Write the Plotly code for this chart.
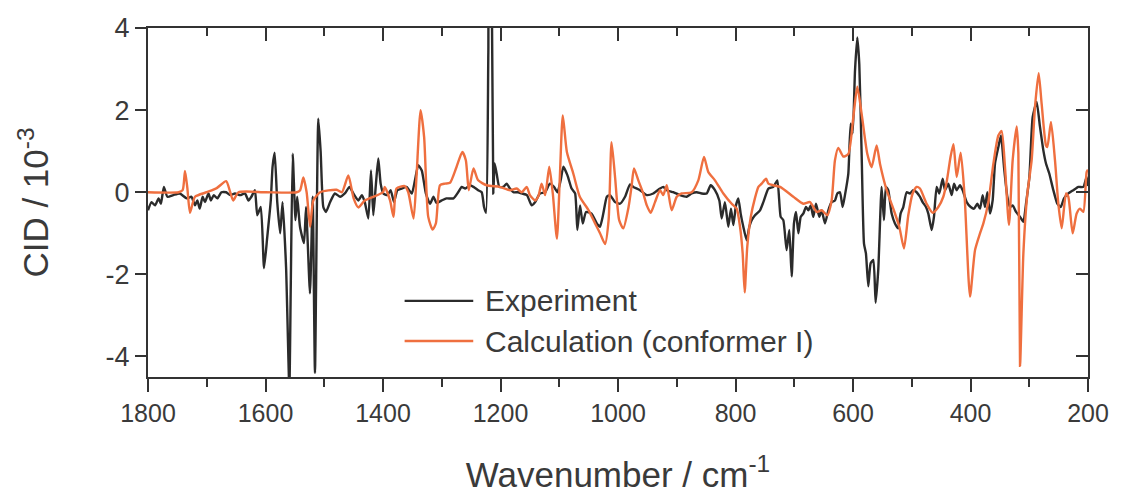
import plotly.graph_objects as go

# Experiment (wavenumber, CID x 1e-3)
exp_wn = [1800, 1794, 1788, 1782, 1778, 1773, 1767, 1757, 1746, 1734, 1726, 1720, 1716, 1712, 1707, 1703,
          1697, 1693, 1688, 1682, 1675, 1667, 1660, 1652, 1643, 1635, 1629, 1624, 1618, 1614, 1608, 1602.5,
          1597, 1591, 1588, 1584.4, 1580, 1575, 1571, 1565, 1559.4, 1557, 1553.7, 1549, 1546, 1541.3,
          1534.5, 1531, 1524.3, 1519.7, 1515.8, 1510.1, 1506.1, 1501.6, 1497, 1490, 1482, 1473, 1465, 1457,
          1450.5, 1442, 1436, 1431, 1425, 1420.4, 1416.5, 1412, 1408, 1404, 1399.5, 1392.6, 1387, 1381.3,
          1375.6, 1368, 1360, 1351, 1345.6, 1340, 1334, 1327, 1320, 1314, 1309, 1300, 1292, 1280, 1272,
          1266, 1260, 1252, 1246, 1238, 1232, 1228, 1224.6, 1220.7, 1219, 1216.7, 1214.4, 1212.2, 1210,
          1206.5, 1202, 1195, 1189.5, 1184, 1178, 1170, 1164, 1155, 1147, 1141, 1133, 1124, 1116, 1109,
          1103, 1097.6, 1093, 1086, 1079, 1073, 1069.2, 1064.6, 1060, 1054.4, 1045, 1036, 1030.6, 1025,
          1019, 1013.6, 1005, 996.6, 988, 979.6, 974, 962.6, 951, 940, 928.5, 923, 917, 906, 894.5, 883,
          874.6, 866, 857.6, 849, 842.3, 835, 827.5, 823.5, 818, 812.2, 807.7, 803.7, 799.2, 795.2, 791.2,
          786.7, 781, 776.5, 772.5, 766.8, 758.3, 752.6, 744, 735.6, 728.8, 723.1, 718.6, 713, 708.4, 704.4,
          700.5, 697, 693, 689, 684.6, 680, 676, 672, 667.6, 663, 657.4, 653.4, 647.7, 642, 636.4, 630.7,
          626.7, 622.2, 617.6, 613.7, 608, 604, 600.6, 596.6, 592.7, 589.3, 585.3, 581.3, 578, 574, 570,
          565.4, 561.5, 557, 551.3, 547.3, 543.9, 540, 534.2, 528.6, 523, 519, 514.4, 508.7, 503, 497.4,
          491.7, 486, 481.5, 475.8, 471.8, 466.1, 462.2, 457.6, 453.1, 447.4, 443.5, 437.8, 436, 432, 428,
          423.5, 418, 413.3, 406.5, 399.7, 394, 388.4, 383.8, 379.3, 375.3, 371.3, 366.8, 362.3, 358.3,
          352.6, 348.1, 343, 337.3, 332.8, 328.2, 322.5, 315.7, 310, 305.5, 299.8, 294.2, 287.4, 281.7,
          276, 271.5, 265.8, 259, 252.2, 246.5, 240.8, 233.5, 225, 216.4, 207.9, 202.3, 200]
exp_cid = [-0.44, -0.24, -0.32, -0.15, -0.28, 0.13, -0.11, -0.07, -0.03, -0.15, -0.11, -0.32, -0.2, -0.4, -0.11, -0.24,
           -0.03, -0.2, -0.07, -0.15, 0.0, 0.0, -0.07, -0.03, -0.07, -0.03, -0.2, -0.11, 0.05, -0.56, -0.36, -1.85,
           -1.09, -0.2, 0.62, 0.96, -0.24, -1.0, -0.24, -1.82, -4.8, -2.3, 0.94, -0.68, -0.11, -0.84,
           -1.24, -0.36, -2.46, -0.11, -4.4, 1.79, 0.98, -0.36, -0.48, -0.24, -0.03, -0.11, -0.03, 0.13,
           -0.03, -0.2, -0.07, -0.24, -0.64, 0.53, -0.56, 0.21, 0.82, 0.21, -0.03, -0.07, 0.05, -0.24,
           0.05, 0.09, 0.13, -0.03, 0.29, 0.66, 0.53, -0.03, -0.28, -0.11, -0.26, -0.2, -0.15, -0.15, 0.0,
           0.13, 0.09, 0.17, 0.13, 0.05, 0.0, -0.36, -0.5, 3.4, 4.8, 4.8, 4.0, -0.03, 0.7,
           0.45, 0.13, 0.13, 0.21, 0.09, 0.0, 0.0, -0.03, -0.07, -0.32, -0.24, -0.03, 0.0, 0.21, 0.13,
           0.0, 0.29, 0.62, 0.41, 0.09, -0.03, -0.92, -0.32, -0.76, -0.48, -0.52, -0.76, -0.84, -0.52,
           -0.11, -0.07, -0.24, -0.28, -0.11, 0.19, 0.13, 0.05, -0.07, -0.03, 0.09, 0.13, 0.05, 0.0, -0.07, -0.11,
           -0.03, 0.0, -0.03, -0.03, 0.17, 0.05, -0.2, -0.64, -0.24, -0.84, -0.4, -0.8, -0.32, -0.15, -0.52,
           -0.84, -1.17, -0.84, -0.68, -0.56, -0.44, -0.24, 0.09, 0.13, 0.29, -0.6, -0.68, -1.41, -0.92, -2.05,
           -0.76, -0.48, -1.0, -0.6, -0.52, -0.36, -0.44, -0.32, -0.6, -0.28, -0.6, -0.44, -0.76, -0.44, -0.24, -0.2,
           -0.03, 0.0, -0.36, -0.07, 0.45, 1.67, 1.43, 2.96, 3.77, 3.12, 0.93, -1.25, -1.49, -2.29, -1.73,
           -1.65, -2.69, -1.89, 0.13, -0.68, 0.13, 0.05, -0.52, -0.76, -0.88, -0.52, -0.36, 0.0, -0.03, 0.05,
           0.0, -0.11, -0.24, -0.36, -0.52, -0.92, -0.6, 0.13, -0.03, 0.33, 0.05, 0.21, 0.13, -0.07, 0.21,
           0.05, 0.17, 0.05, -0.24, -0.36, -0.4, -0.28, -0.4, -0.07, -0.36, 0.0, -0.52, -0.2, 0.7,
           1.1, 1.38, 0.62, -0.11, -0.36, -0.32, -0.48, -0.6, -0.72, -0.28, 0.37, 1.83, 2.2, 1.59,
           1.02, 0.7, 0.45, 0.05, -0.28, -0.36, -0.15, -0.03, 0.05, 0.13, 0.13, 0.37, 0.15]

# Calculation (conformer I)
calc_wn = [1800, 1748, 1741, 1737, 1733, 1728.5, 1720, 1700, 1683, 1667, 1660, 1655, 1646, 1600, 1547, 1541,
           1535.6, 1530, 1524, 1518.6, 1507, 1479, 1470, 1459, 1450, 1442, 1431, 1400, 1397, 1388, 1382,
           1377, 1363, 1357, 1348, 1343, 1336, 1330, 1323, 1315.5, 1310, 1303, 1294.5, 1286, 1275, 1265,
           1259, 1254, 1246, 1238, 1223.5, 1201, 1184, 1172.5, 1164, 1155.4, 1150, 1141, 1135.6, 1130, 1124,
           1117, 1111, 1104, 1099, 1094, 1087, 1076, 1065, 1050, 1039, 1030.6, 1022, 1016, 1011, 1005, 998,
           991, 982, 977, 972.8, 965.4, 957, 951, 944.4, 937, 928.5, 923, 917, 908.7, 900, 891.6, 874.6, 863.3,
           853.6, 846.2, 835, 820.7, 806.5, 798, 792.3, 787.8, 784.4, 780, 774, 767, 761, 755.5, 748, 744,
           735.6, 724, 701.6, 684.6, 673.2, 661.9, 653.4, 643.7, 636.4, 630.7, 625, 616.5, 608, 599.5, 592.7,
           585.3, 575.6, 568.3, 559.8, 554, 542.7, 531.4, 521.2, 513.2, 505.9, 498.5, 491.7, 486, 474.7, 464.4,
           454.8, 446.3, 440, 434, 429, 423.5, 416.7, 410, 400.8, 392.3, 383.8, 378.1, 369.6, 361.1, 352.6,
           347, 341.3, 334.5, 328.2, 321.4, 318.5, 315.7, 310, 303.2, 295.9, 290.2, 284, 278.9, 271.5, 269.2,
           263, 256.2, 250.5, 244.8, 237.4, 233.5, 226.1, 219.3, 213.6, 207.9, 202.3, 200]
calc_cid = [0.0, 0.0, 0.05, 0.52, 0.1, -0.5, -0.11, 0.0, 0.1, 0.27, 0.0, -0.2, 0.0, 0.0, 0.0, 0.05,
            0.36, 0.0, -0.84, -0.2, 0.0, 0.06, 0.0, 0.41, -0.15, -0.37, -0.2, 0.0, 0.13, -0.2, -0.6,
            0.09, 0.15, 0.0, -0.64, 0.37, 2.0, 1.34, -0.6, -0.91, -0.76, 0.17, 0.21, 0.23, 0.61, 0.98,
            0.78, 0.05, 0.58, 0.29, 0.17, 0.13, 0.05, 0.09, 0.0, 0.13, -0.07, -0.2, -0.1, 0.21, -0.07,
            0.62, -0.03, -1.13, 0.37, 1.87, 0.98, 0.45, -0.11, -0.44, -0.76, -1.0, -1.26, -0.68, 1.22, 0.37, -0.68,
            -0.88, -0.36, 0.13, 0.58, 0.29, -0.03, -0.32, -0.5, -0.24, 0.05, -0.07, 0.17, -0.44, -0.11, -0.03, 0.0, 0.29,
            0.86, 0.49, 0.29, -0.03, -0.28, -0.4, -0.84, -1.49, -2.44, -1.33, -0.6, -0.15, 0.13, 0.21, 0.33, 0.21,
            0.17, 0.13, -0.11, -0.28, -0.24, -0.48, -0.44, -0.56, -0.2, 0.78, 1.08, 0.87, 0.93, 1.82, 2.57,
            1.91, 0.93, 0.61, 1.14, 0.69, 0.05, -0.4, -0.84, -1.37, -0.56, -0.03, 0.13, 0.09, -0.28, -0.5,
            -0.36, -0.11, 0.3, 0.86, 1.17, 0.37, 0.96, -0.1, -2.54, -1.41, -1.0, -0.76, -0.24, 0.69, 1.38,
            1.49, 0.61, -0.8, 0.78, 1.6, 0.94, -4.23, -1.49, -0.03, 0.78, 2.08, 2.9, 2.15, 1.14, 1.1,
            1.71, 0.78, -0.28, -0.88, -0.03, -0.11, -1.0, -0.52, -0.4, -0.48, 0.49, 0.55]

x_ticks = [1800, 1600, 1400, 1200, 1000, 800, 600, 400, 200]
y_ticks = [-4, -2, 0, 2, 4]
y_tick_text = ["-4", "-2", "0", "2", "4"]
series_names = ["Experiment", "Calculation (conformer I)"]

BLACK = "#2b2b2b"
ORANGE = "#EF6F3F"
TXT = "#3a3a3a"
AX = "#333333"

fig = go.Figure()
fig.add_trace(go.Scatter(x=exp_wn, y=exp_cid, mode="lines", name=series_names[0],
                         line=dict(color=BLACK, width=2.4, shape="spline", smoothing=0.5), showlegend=False))
fig.add_trace(go.Scatter(x=calc_wn, y=calc_cid, mode="lines", name=series_names[1],
                         line=dict(color=ORANGE, width=2.4, shape="spline", smoothing=0.6), showlegend=False))
# helper trace so the mirrored (top/right) axes are drawn
fig.add_trace(go.Scatter(x=[None], y=[None], xaxis="x2", yaxis="y2", showlegend=False, hoverinfo="skip"))

xr = [1800, 200]
yr = [-4.5, 4]
# the page body adds an 8 px offset, so the figure is sized 8 px smaller
fig.update_layout(
    width=1113, height=489,
    margin=dict(l=140, r=33, t=20, b=120, autoexpand=False),
    paper_bgcolor="white", plot_bgcolor="white",
    font=dict(family="Liberation Sans, Arial, sans-serif", color=TXT),
    xaxis=dict(range=xr, tickvals=x_ticks, ticks="outside", ticklen=13, tickwidth=2, tickcolor=AX,
               minor=dict(dtick=100, tick0=200, ticks="outside", ticklen=8, tickwidth=2, tickcolor=AX),
               showline=True, linewidth=2, linecolor=AX, showgrid=False, zeroline=False, automargin=False,
               tickfont=dict(size=25, color=TXT),
               title=dict(text="Wavenumber / cm<sup>-1</sup>", font=dict(size=35, color=TXT), standoff=36)),
    yaxis=dict(range=yr, tickvals=y_ticks, ticktext=y_tick_text, ticks="outside", ticklen=11, tickwidth=2,
               tickcolor=AX, showline=True, linewidth=2, linecolor=AX, showgrid=False, zeroline=False,
               automargin=False, tickfont=dict(size=27, color=TXT),
               title=dict(text="CID / 10<sup>-3</sup>", font=dict(size=35, color=TXT), standoff=46)),
    xaxis2=dict(range=xr, overlaying="x", side="top", tickvals=x_ticks, ticks="inside", ticklen=13,
                tickwidth=2, tickcolor=AX, showticklabels=False, automargin=False,
                minor=dict(dtick=100, tick0=200, ticks="inside", ticklen=8, tickwidth=2, tickcolor=AX),
                showline=True, linewidth=2, linecolor=AX, showgrid=False, zeroline=False),
    yaxis2=dict(range=yr, overlaying="y", side="right", tickvals=y_ticks, ticks="inside", ticklen=12,
                tickwidth=2, tickcolor=AX, showticklabels=False, automargin=False,
                showline=True, linewidth=2, linecolor=AX, showgrid=False, zeroline=False),
)

# manual legend (long line samples as in the reference)
leg_y = [0.218, 0.103]
leg_col = [BLACK, ORANGE]
for name, yy, col in zip(series_names, leg_y, leg_col):
    fig.add_shape(type="line", xref="paper", yref="paper", x0=0.273, x1=0.346, y0=yy, y1=yy,
                  line=dict(color=col, width=2.4))
    fig.add_annotation(xref="paper", yref="paper", x=0.356, y=yy, text=name, showarrow=False,
                       xanchor="left", yanchor="middle", font=dict(size=30, color=TXT))

fig.write_html("out.html")
